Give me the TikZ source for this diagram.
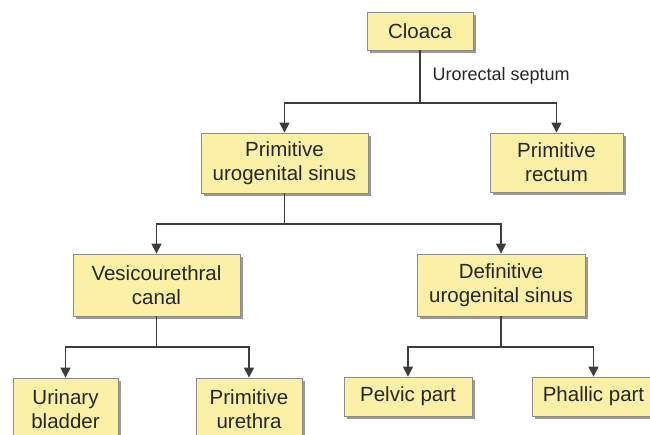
\documentclass[tikz,border=0pt]{standalone}
\usepackage{fontspec}
\setmainfont{Liberation Sans}
\usetikzlibrary{arrows.meta,shadows}
\definecolor{boxfill}{HTML}{FBF0A6}
\definecolor{boxedge}{HTML}{8C8C8C}
\definecolor{ink}{HTML}{262626}

\begin{document}
\begin{tikzpicture}[x=1pt,y=-1pt,
    box/.style={draw=boxedge,line width=0.8pt,fill=boxfill,
      text=ink,align=center,inner sep=0pt,
      font=\fontsize{20.5}{24}\selectfont,
      drop shadow={shadow xshift=3pt,shadow yshift=-3pt,fill=black!40,opacity=1}},
    line/.style={draw=ink!90,line width=1.3pt},
    link/.style={line,-{Triangle[length=10pt,width=10pt]}}]
  \useasboundingbox (0,0) rectangle (650,434);
  \clip (0,0) rectangle (650,434);
  % boxes
  \node[box,minimum width=106,minimum height=38] (cloaca) at (420,31) {Cloaca};
  \node[box,minimum width=167,minimum height=60] (pus) at (284.5,163) {Primitive\\urogenital sinus};
  \node[box,minimum width=133,minimum height=59] (rectum) at (556.5,162.5) {Primitive\\rectum};
  \node[box,minimum width=167,minimum height=62] (vc) at (156.5,285) {Vesicourethral\\canal};
  \node[box,minimum width=168,minimum height=62] (dus) at (501,285) {Definitive\\urogenital sinus};
  \node[box,minimum width=105,minimum height=62] (bladder) at (65.5,409) {Urinary\\bladder};
  \node[box,minimum width=106,minimum height=62] (urethra) at (249,409) {Primitive\\urethra};
  \node[box,minimum width=128,minimum height=39] (pelvic) at (408,396.5) {Pelvic part};
  \node[box,minimum width=123,minimum height=39] (phallic) at (593.5,396.5) {Phallic part};
  \node[anchor=west,text=ink,font=\fontsize{18}{20}\selectfont] (septum) at (429,76) {Urorectal septum};
  % branch points
  \coordinate (j1) at (cloaca.south |- 0,103);
  \coordinate (j2) at (pus.south |- 0,224);
  \coordinate (j3) at (vc.south |- 0,347);
  \coordinate (j4) at (dus.south |- 0,347);
  \draw[line] (cloaca.south) -- (j1);
  \draw[line] (pus.south) -- (j2);
  \draw[line] (vc.south) -- (j3);
  \draw[line] (dus.south) -- (j4);
  \foreach \j/\c in {j1/pus,j1/rectum,j2/vc,j2/dus,j3/bladder,j3/urethra,j4/pelvic,j4/phallic}
    \draw[link] (\j) -| (\c.north);
\end{tikzpicture}
\end{document}
